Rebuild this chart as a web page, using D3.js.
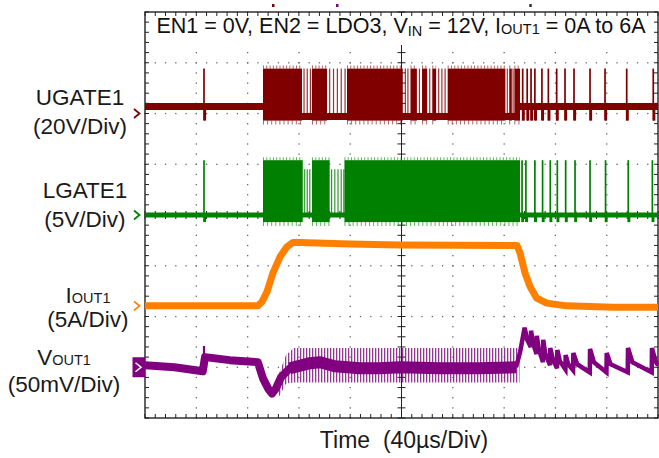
<!DOCTYPE html>
<html><head><meta charset="utf-8">
<script src="https://cdn.jsdelivr.net/npm/d3@7"></script>
<style>
body{margin:0;background:#fff}
svg{display:block}
text{font-family:"Liberation Sans",Arial,sans-serif;white-space:pre}
</style>
</head><body><svg id="c" width="659" height="458"></svg>
<script>
// ---------------- DATA ----------------
const timeDomain = [0, 400];            // µs, 40 µs/div, 10 divisions
const channelNames = ["UGATE1", "LGATE1", "IOUT1", "VOUT1"];
const channelPerDiv = [20, 5, 5, 50];     // V/div, V/div, A/div, mV/div
const channelZeroDiv = [2.0, 0, -1.79, -3.0]; // ground marker position (divisions from centre)
const channelColors = ["#800000", "#008000", "#ff8000", "#800080"];
const channelUnits = ["(20V/Div)", "(5V/Div)", "(5A/Div)", "(50mV/Div)"];

// UGATE1 (V)
const ugateIdle = 2.8, ugateHigh = 17.7, ugateLow = -2.8, ugateGap = -1.2;
const ugateBurstSpan = [92, 292.4];
const ugateSolid = [[92,122.4],[130.2,141.9],[157.5,201],[207,212],[216,220],[224,227],[236,281],[284,286],[288,292.4]];
const ugateGapPulses = [124,126.5,129,144,147,150,153,156,203,205,214,222,229,231.5,234,282.5,287];
const ugatePulses = [46,294.5,298,301,304,309.5,314.5,321,327.5,334.5,347,358.7,375.6,396.3];

// LGATE1 (V)
const lgateIdle = 0, lgateHigh = 5.4, lgateLow = -0.7, lgateGapHigh = 4.5;
const lgateSolid = [[92,123],[130.2,144],[155.5,292.4]];
const lgateGapPulses = [124.5,126.5,128.5,145.5,148,150.5,153,155];
const lgatePulses = [46,294,297,304,310,316,321.5,328,335.3,347,359.1,376.8,395.6];

// IOUT1 (A)
const ioutTime = [0,88.1,91.2,95.1,99.8,105.3,110.7,115.4,120.9,159.8,198.8,290.1,292.4,296.3,300.2,305.4,313.2,328.8,364.9,400];
const ioutAmps = [0,0,0.39,1.38,3.25,4.83,5.81,6.25,6.25,6.1,6.0,5.95,5.22,3.25,1.9,0.76,0.27,0,-0.13,-0.13];

// VOUT1 (mV, AC coupled)
const voutTime = [0,23,45,46.8,66,88,92,96,99,102,106,113,128.7,136.5,148,167.6,183,199,230,261,289.3,292.5,
  296,298,300.8,301,302.5,305.3,305.5,307,310.3,310.5,312,315.8,316,318,321.3,321.5,323.5,327.8,328,330,333.8,334,337,346.8,347,350,359.8,360,363,376.4,376.6,380,395.1,395.3,398,400];
const voutMv = [2,0,-4,10,7,5,-11,-21,-26,-21,-10,-1,4,5,1,-1,-1,0,-1,-1,0,15,
  39,27,20,36,24,13,31,18,5,27,14,2,19,8,-1,17,6,-2,12,3,-3,14,3,-5,18,5,-5,14,3,-5,19,5,-5,19,6,2];
const voutSpikeTime = [46];
const voutSpikeMv = [21];
const voutRippleTime = [104,110,116,292];
const voutRippleTop = [-8,12,19,19];
const voutRippleBottom = [-30,-16,-15,-15];
const voutSwitchSpan = [108, 290];
const voutSettleStart = 289.3;

const topMarkers = [{t:99.8,c:"#800000"},{t:149.7,c:"#800080"},{t:300.4,c:"#333"}];

// ---------------- LAYOUT ----------------
const X0 = 145, X1 = 658, Y0 = 12, Y1 = 418;
const svg = d3.select("#c");
const x = d3.scaleLinear().domain(timeDomain).range([X0, X1]);
const xDiv = d3.scaleLinear().domain([-5, 5]).range([X0, X1]);
const yDiv = d3.scaleLinear().domain([-4, 4]).range([Y1, Y0]);
const yCh = i => v => yDiv(channelZeroDiv[i] + v / channelPerDiv[i]);

// ---------------- GRID ----------------
const grid = svg.append("g");
const dots = [];
d3.range(-4, 5).filter(i => i !== 0).forEach(i => d3.range(-20, 21).forEach(k => dots.push([xDiv(i), yDiv(k / 5)])));
d3.range(-3, 4).filter(j => j !== 0).forEach(j => d3.range(-25, 26).forEach(k => dots.push([xDiv(k / 5), yDiv(j)])));
grid.selectAll("rect.dot").data(dots).join("rect").attr("class","dot")
  .attr("x", d => d[0] - 0.6).attr("y", d => d[1] - 0.6).attr("width", 1.3).attr("height", 1.3).attr("fill", "#666");

const tickLen = 4;
const xMin = d3.range(-25, 26).map(k => xDiv(k / 5));
const yMin = d3.range(-20, 21).map(k => yDiv(k / 5));
const tk = [];
xMin.forEach(px => { tk.push([px, Y0, px, Y0 + tickLen]); tk.push([px, Y1 - tickLen, px, Y1]); tk.push([px, yDiv(0) - tickLen, px, yDiv(0) + tickLen]); });
yMin.forEach(py => { tk.push([X0, py, X0 + tickLen, py]); tk.push([X1 - tickLen, py, X1, py]); tk.push([xDiv(0) - tickLen, py, xDiv(0) + tickLen, py]); });
grid.selectAll("line.tk").data(tk).join("line").attr("class","tk")
  .attr("x1", d => d[0]).attr("y1", d => d[1]).attr("x2", d => d[2]).attr("y2", d => d[3])
  .attr("stroke", "#222").attr("stroke-width", 1);
grid.append("line").attr("x1", xDiv(0)).attr("x2", xDiv(0)).attr("y1", Y0).attr("y2", Y1).attr("stroke", "#222").attr("stroke-width", 1);
grid.append("line").attr("x1", X0).attr("x2", X1).attr("y1", yDiv(0)).attr("y2", yDiv(0)).attr("stroke", "#222").attr("stroke-width", 1);
grid.append("rect").attr("x", X0).attr("y", Y0).attr("width", X1 - X0).attr("height", Y1 - Y0)
  .attr("fill", "none").attr("stroke", "#222").attr("stroke-width", 1.4);

// top trigger markers
svg.selectAll("rect.tm").data(topMarkers).join("rect").attr("class","tm")
  .attr("x", d => x(d.t) - 1).attr("y", 4).attr("width", 2.5).attr("height", 3).attr("fill", d => d.c);

// title box
svg.append("rect").attr("x", 150).attr("y", 16).attr("width", 502).attr("height", 29).attr("fill", "#fff");
const title = svg.append("text").attr("x", 401).attr("y", 33).attr("text-anchor", "middle")
  .attr("font-size", 21.5).attr("fill", "#111");
title.append("tspan").text("EN1 = 0V, EN2 = LDO3, V");
title.append("tspan").attr("font-size", 14.5).attr("dy", 3).text("IN");
title.append("tspan").attr("dy", -3).text(" = 12V, I");
title.append("tspan").attr("font-size", 14.5).attr("dy", 1).text("OUT1");
title.append("tspan").attr("dy", -1).text(" = 0A to 6A");

// ---------------- TRACES ----------------
const traces = svg.append("g");
function hLine(g, t0, t1, yv, color, w) {
  g.append("line").attr("x1", x(t0)).attr("x2", x(t1)).attr("y1", yv).attr("y2", yv)
    .attr("stroke", color).attr("stroke-width", w);
}
function gateTrace(i, idle, high, low, gapLevel, gapHigh, solid, gapPulses, pulses, idleW, burstSpan) {
  const y = yCh(i), col = channelColors[i], g = traces.append("g");
  hLine(g, timeDomain[0], burstSpan[0], y(idle), col, idleW);
  hLine(g, burstSpan[1], timeDomain[1], y(idle), col, idleW);
  hLine(g, burstSpan[0], burstSpan[1], y(gapLevel), col, idleW);
  g.selectAll("rect.s").data(solid).join("rect").attr("class","s")
    .attr("x", d => x(d[0])).attr("width", d => x(d[1]) - x(d[0]))
    .attr("y", y(high)).attr("height", y(low) - y(high)).attr("fill", col);
  // ragged edges of the dense switching
  g.selectAll("line.ft").data(solid).join("line").attr("class","ft")
    .attr("x1", d => x(d[0])).attr("x2", d => x(d[1])).attr("y1", y(high) - 1.5).attr("y2", y(high) - 1.5)
    .attr("stroke", col).attr("stroke-width", 3).attr("stroke-dasharray", "1 2.3").attr("opacity", 0.6);
  g.selectAll("line.fb").data(solid).join("line").attr("class","fb")
    .attr("x1", d => x(d[0])).attr("x2", d => x(d[1])).attr("y1", y(low) + 2).attr("y2", y(low) + 2)
    .attr("stroke", col).attr("stroke-width", 4).attr("stroke-dasharray", "1 3.1").attr("opacity", 0.6);
  g.selectAll("line.gp").data(gapPulses).join("line").attr("class","gp")
    .attr("x1", d => x(d)).attr("x2", d => x(d)).attr("y1", y(gapHigh)).attr("y2", y(gapLevel))
    .attr("stroke", col).attr("stroke-width", 1.2).attr("opacity", 0.8);
  g.selectAll("line.p").data(pulses).join("line").attr("class","p")
    .attr("x1", d => x(d)).attr("x2", d => x(d)).attr("y1", y(high)).attr("y2", y(low))
    .attr("stroke", col).attr("stroke-width", 1.7);
  g.selectAll("line.pr").data(pulses).join("line").attr("class","pr")
    .attr("x1", d => x(d) + 1).attr("x2", d => x(d) + 1).attr("y1", y(idle)).attr("y2", y(low))
    .attr("stroke", col).attr("stroke-width", 2.2);
}
gateTrace(0, ugateIdle, ugateHigh, ugateLow, ugateGap, ugateHigh, ugateSolid, ugateGapPulses, ugatePulses, 7, ugateBurstSpan);
gateTrace(1, lgateIdle, lgateHigh, lgateLow, lgateIdle, lgateGapHigh, lgateSolid, lgateGapPulses, lgatePulses, 5, [lgateSolid[0][0], lgateSolid[lgateSolid.length-1][1]]);

// IOUT
const yI = yCh(2);
traces.append("path").datum(d3.zip(ioutTime, ioutAmps))
  .attr("d", d3.line().x(d => x(d[0])).y(d => yI(d[1])))
  .attr("fill", "none").attr("stroke", channelColors[2]).attr("stroke-width", 7).attr("stroke-linejoin", "round");

// VOUT
const yV = yCh(3);
const defs = svg.append("defs");
const pat = defs.append("pattern").attr("id", "stripes").attr("patternUnits", "userSpaceOnUse")
  .attr("width", 3).attr("height", 20);
pat.append("rect").attr("x", 0).attr("y", 0).attr("width", 1.3).attr("height", 20).attr("fill", channelColors[3]).attr("opacity", 0.8);
traces.append("path").datum(d3.zip(voutRippleTime, voutRippleTop, voutRippleBottom))
  .attr("d", d3.area().x(d => x(d[0])).y0(d => yV(d[2])).y1(d => yV(d[1])))
  .attr("fill", "url(#stripes)");
const voutPts = d3.zip(voutTime, voutMv);
const vLine = d3.line().x(d => x(d[0])).y(d => yV(d[1]));
traces.append("path").datum(voutPts.filter(d => d[0] <= voutSettleStart))
  .attr("d", vLine).attr("fill", "none").attr("stroke", channelColors[3]).attr("stroke-width", 8).attr("stroke-linejoin", "round");
traces.append("path").datum(voutPts.filter(d => d[0] >= voutSettleStart))
  .attr("d", vLine).attr("fill", "none").attr("stroke", channelColors[3]).attr("stroke-width", 4.5).attr("stroke-linejoin", "miter");
traces.append("path").datum(voutPts.filter(d => d[0] >= voutSwitchSpan[0] && d[0] <= voutSwitchSpan[1]))
  .attr("d", vLine).attr("fill", "none").attr("stroke", channelColors[3]).attr("stroke-width", 12).attr("stroke-linejoin", "round");
traces.selectAll("line.vs").data(d3.zip(voutSpikeTime, voutSpikeMv)).join("line").attr("class","vs")
  .attr("x1", d => x(d[0])).attr("x2", d => x(d[0])).attr("y1", d => yV(d[1])).attr("y2", yV(0))
  .attr("stroke", channelColors[3]).attr("stroke-width", 2.2);

// ---------------- CHANNEL MARKERS & LABELS ----------------
[0, 1, 2].forEach(i => {
  const yy = yCh(i)(0);
  svg.append("path").attr("d", `M${X0 - 11},${yy - 4.5}L${X0 - 5.5},${yy}L${X0 - 11},${yy + 4.5}`)
    .attr("fill", "none").attr("stroke", channelColors[i]).attr("stroke-width", 1.8);
});
{
  const yy = yV(0);
  svg.append("rect").attr("x", X0 - 12.5).attr("y", yy - 10).attr("width", 12.5).attr("height", 20).attr("fill", channelColors[3]);
  svg.append("path").attr("d", `M${X0 - 9.5},${yy - 4.5}L${X0 - 4},${yy}L${X0 - 9.5},${yy + 4.5}`)
    .attr("fill", "none").attr("stroke", "#fff").attr("stroke-width", 1.6);
}

const labelCx = [80, 85, 88, 64];
const labelY1 = [105, 198, 303, 365];
const labelY2 = [134, 227, 327, 392];
const lbl = svg.append("g").attr("fill", "#1a1a1a").attr("font-size", 22.5).attr("text-anchor", "middle");
channelNames.forEach((n, i) => {
  const t = lbl.append("text").attr("x", labelCx[i]).attr("y", labelY1[i]);
  if (n.includes("OUT")) {
    t.append("tspan").text(n[0]);
    t.append("tspan").attr("font-size", 14.5).text(n.slice(1));
  } else t.text(n);
  lbl.append("text").attr("x", labelCx[i]).attr("y", labelY2[i]).text(channelUnits[i]);
});

svg.append("text").attr("x", 404).attr("y", 448).attr("text-anchor", "middle")
  .attr("font-size", 23).attr("fill", "#1a1a1a").text("Time  (40\u00b5s/Div)");
</script>
</body></html>
